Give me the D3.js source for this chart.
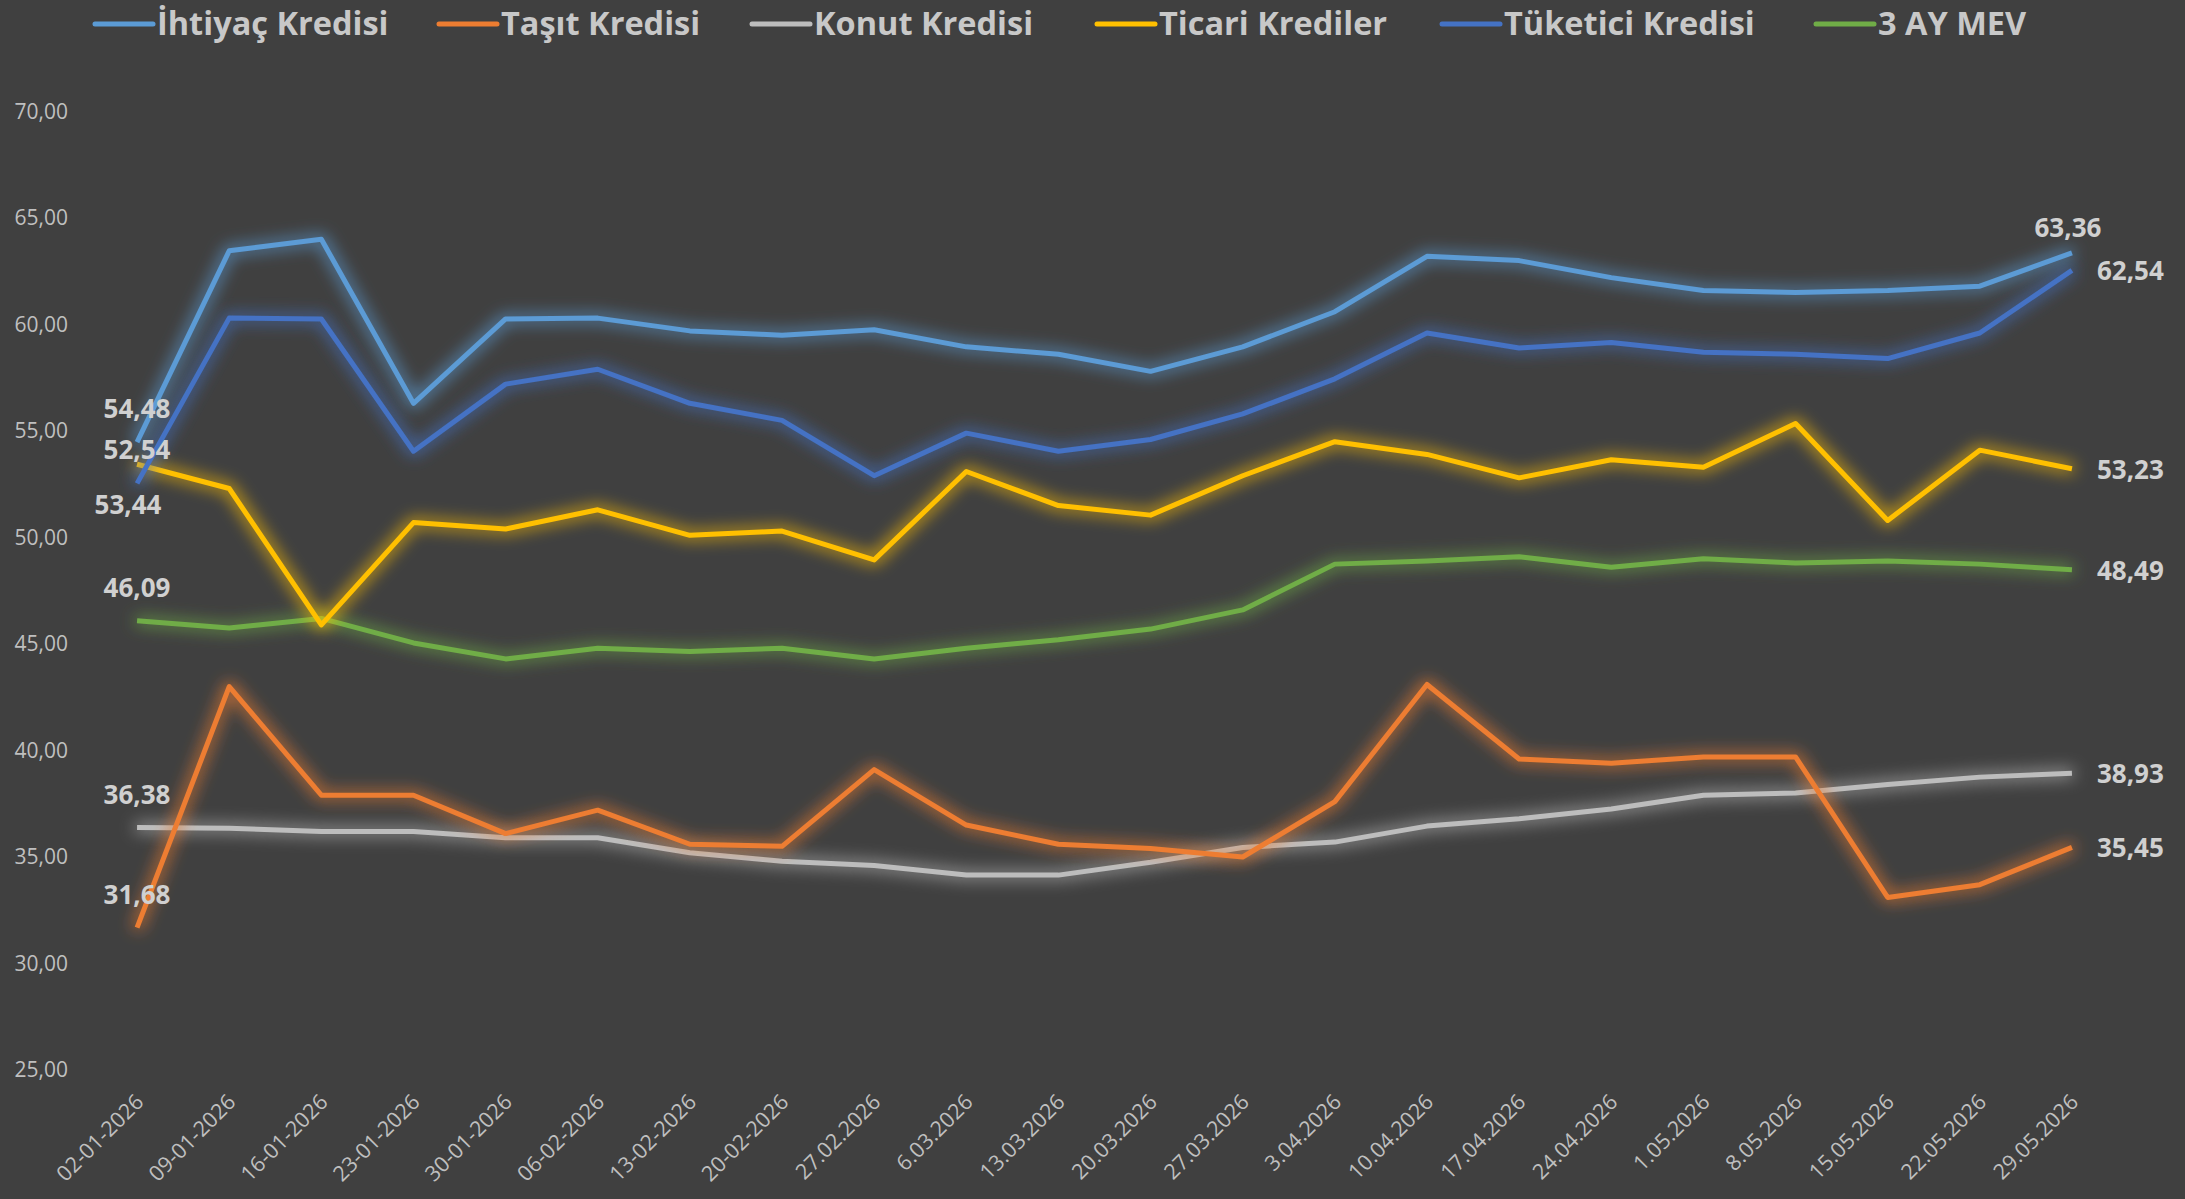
<!DOCTYPE html>
<html>
<head>
<meta charset="utf-8">
<script src="https://cdn.jsdelivr.net/npm/d3@7"></script>
<style>
  body { margin: 0; background: #404040; }
  svg { display: block; }
</style>
</head>
<body>
<svg class="main"></svg>
<script>
const dates = ["02-01-2026", "09-01-2026", "16-01-2026", "23-01-2026", "30-01-2026", "06-02-2026",
  "13-02-2026", "20-02-2026", "27.02.2026", "6.03.2026", "13.03.2026", "20.03.2026", "27.03.2026",
  "3.04.2026", "10.04.2026", "17.04.2026", "24.04.2026", "1.05.2026", "8.05.2026", "15.05.2026",
  "22.05.2026", "29.05.2026"];

const ihtiyac  = [54.48, 63.46, 64.0, 56.3, 60.26, 60.3, 59.7, 59.5, 59.75, 58.95, 58.6, 57.8, 58.95, 60.6, 63.2, 63.0, 62.2, 61.6, 61.5, 61.6, 61.8, 63.36];
const tasit    = [31.68, 43.0, 37.9, 37.9, 36.1, 37.2, 35.6, 35.5, 39.1, 36.5, 35.6, 35.4, 35.0, 37.6, 43.1, 39.6, 39.4, 39.7, 39.7, 33.1, 33.7, 35.45];
const konut    = [36.38, 36.35, 36.2, 36.2, 35.9, 35.9, 35.2, 34.8, 34.6, 34.15, 34.15, 34.75, 35.45, 35.7, 36.45, 36.8, 37.25, 37.9, 38.0, 38.4, 38.75, 38.93];
const ticari   = [53.44, 52.3, 45.9, 50.7, 50.4, 51.3, 50.1, 50.3, 48.95, 53.1, 51.5, 51.05, 52.9, 54.5, 53.9, 52.8, 53.65, 53.3, 55.35, 50.8, 54.1, 53.23];
const tuketici = [52.54, 60.3, 60.26, 54.05, 57.2, 57.9, 56.3, 55.5, 52.9, 54.9, 54.05, 54.6, 55.8, 57.45, 59.6, 58.9, 59.15, 58.7, 58.6, 58.4, 59.6, 62.54];
const mev      = [46.09, 45.75, 46.2, 45.05, 44.3, 44.8, 44.65, 44.8, 44.3, 44.8, 45.2, 45.7, 46.6, 48.75, 48.9, 49.1, 48.6, 49.0, 48.8, 48.9, 48.75, 48.49];

const seriesNames = ["İhtiyaç Kredisi", "Taşıt Kredisi", "Konut Kredisi", "Ticari Krediler", "Tüketici Kredisi", "3 AY MEV"];
const seriesValues = [ihtiyac, tasit, konut, ticari, tuketici, mev];
const yTicks = [25, 30, 35, 40, 45, 50, 55, 60, 65, 70];

// styling only
const colors = ["#5B9BD5", "#ED7D31", "#BDBDBD", "#FFC000", "#4472C4", "#70AD47"];
const startLabelPos = ["above", "above", "above", "below", "above", "above"];
const endLabelPos = ["above", "right", "right", "right", "right", "right"];
const legendX = [95, 439, 752, 1097, 1442, 1816];

const width = 2185, height = 1199;
const svg = d3.select("svg.main").attr("width", width).attr("height", height);
svg.append("rect").attr("width", width).attr("height", height).attr("fill", "#404040");

// glow like excel
const defs = svg.append("defs");
colors.forEach((c, i) => {
  const f = defs.append("filter").attr("id", "glow" + i)
    .attr("x", "-10%").attr("y", "-40%").attr("width", "120%").attr("height", "180%");
  f.append("feMorphology").attr("in", "SourceGraphic").attr("operator", "dilate").attr("radius", 2).attr("result", "d");
  f.append("feGaussianBlur").attr("in", "d").attr("stdDeviation", 8).attr("result", "b");
  f.append("feComponentTransfer").attr("in", "b").attr("result", "b2")
    .append("feFuncA").attr("type", "linear").attr("slope", 0.75);
  const m = f.append("feMerge");
  m.append("feMergeNode").attr("in", "b2");
  m.append("feMergeNode").attr("in", "SourceGraphic");
});

const x = d3.scalePoint().domain(dates).range([91, 2118]).padding(0.5);
const y = d3.scaleLinear().domain([25, 70]).range([1070, 111.5]);

const fmt = v => v.toFixed(2).replace(".", ",");

// y axis
const yAxis = svg.append("g").attr("transform", "translate(91,0)")
  .call(d3.axisLeft(y).tickValues(yTicks).tickFormat(fmt).tickSize(0).tickPadding(23));
yAxis.select(".domain").remove();
yAxis.selectAll("text").attr("fill", "#bfbfbf").style("font-family", "Open Sans").style("font-size", "21px");

// x axis
const xAxis = svg.append("g").attr("transform", "translate(0,1070)")
  .call(d3.axisBottom(x).tickSize(0));
xAxis.select(".domain").remove();
xAxis.selectAll("text")
  .attr("fill", "#bfbfbf").style("font-family", "Open Sans").style("font-size", "21.5px")
  .attr("text-anchor", "end").attr("dy", "0.35em").attr("y", 0)
  .attr("transform", "translate(2,28) rotate(-45)");

// lines
const line = d3.line().x((d, i) => x(dates[i])).y(d => y(d));
const order = [2, 1, 5, 3, 4, 0];
order.forEach(i => {
  svg.append("path")
    .datum(seriesValues[i])
    .attr("d", line)
    .attr("fill", "none")
    .attr("stroke", colors[i])
    .attr("stroke-width", 5)
    .attr("stroke-linejoin", "round")
    .attr("filter", `url(#glow${i})`);
});

// data labels
const lab = svg.append("g").style("font-family", "Open Sans").style("font-weight", "bold")
  .style("font-size", "26px").attr("fill", "#d0d0d0");
seriesValues.forEach((vals, i) => {
  const n = vals.length - 1;
  const x0 = x(dates[0]), y0 = y(vals[0]);
  const t0 = lab.append("text").text(fmt(vals[0])).attr("text-anchor", "middle");
  if (startLabelPos[i] === "above") t0.attr("x", x0).attr("y", y0 - 33 + 9);
  else t0.attr("x", x0 - 9).attr("y", y0 + 41 + 9);

  const x1 = x(dates[n]), y1 = y(vals[n]);
  const t1 = lab.append("text").text(fmt(vals[n]));
  if (endLabelPos[i] === "above") t1.attr("text-anchor", "middle").attr("x", x1 - 4).attr("y", y1 - 25 + 9);
  else t1.attr("text-anchor", "start").attr("x", x1 + 25).attr("y", y1 + 10);
});

// legend
const leg = svg.append("g").attr("transform", "translate(0,24)");
seriesNames.forEach((name, i) => {
  const lx = legendX[i];
  leg.append("line").attr("x1", lx).attr("x2", lx + 58).attr("y1", 0).attr("y2", 0)
    .attr("stroke", colors[i]).attr("stroke-width", 5).attr("stroke-linecap", "round");
  leg.append("text").attr("x", lx + 62).attr("y", 0).attr("dy", "0.35em")
    .style("font-family", "Open Sans").style("font-weight", "bold").style("font-size", "32.5px")
    .attr("fill", "#c8c8c8").text(name);
});
</script>
</body>
</html>
